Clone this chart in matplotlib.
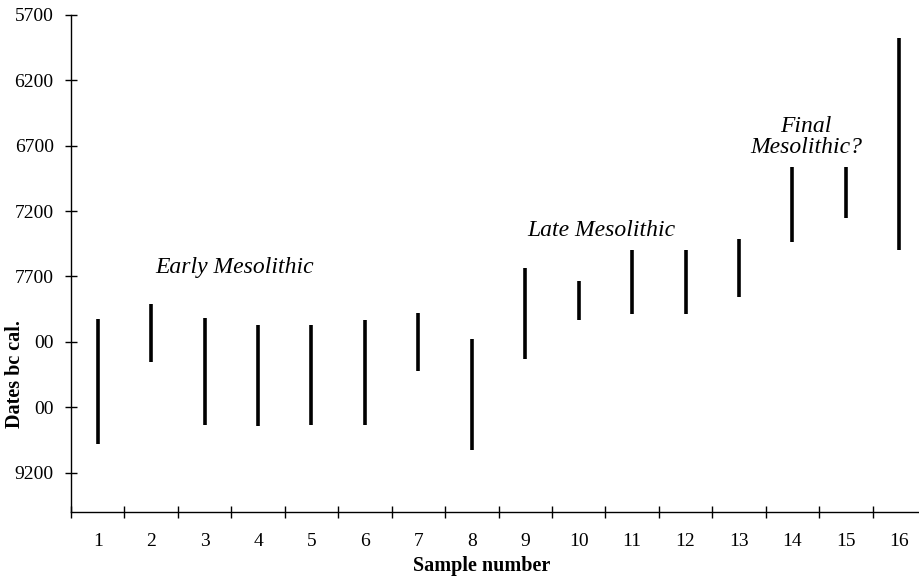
import matplotlib
matplotlib.use("Agg")
import matplotlib.pyplot as plt

samples = list(range(1, 17))
date_young = [8025, 7913, 8020, 8071, 8071, 8031, 7980, 8181,
              7638, 7737, 7498, 7498, 7412, 6861, 6861, 5880]
date_old = [8983, 8354, 8838, 8846, 8838, 8838, 8420, 9029,
            8331, 8033, 7987, 7987, 7855, 7439, 7256, 7498]
ytick_values = [5700, 6200, 6700, 7200, 7700, 8200, 8700, 9200]
ytick_labels = ["5700", "6200", "6700", "7200", "7700", "00", "00", "9200"]

W, H = 920, 577
fig = plt.figure(figsize=(W / 100, H / 100), dpi=100)
serif = ["Liberation Serif", "DejaVu Serif"]

x0, x1 = 71, 926
y_top, y_bot = 14.7, 512
ax = fig.add_axes([x0 / W, (H - y_bot) / H, (x1 - x0) / W, (y_bot - y_top) / H])

ax.vlines(samples, date_young, date_old, colors="black", linewidth=2.6)

ax.set_xlim(0.5, 16.5)
ax.set_ylim(9500, 5700)

for s in ["top", "right"]:
    ax.spines[s].set_visible(False)
for s in ["left", "bottom"]:
    ax.spines[s].set_linewidth(1.0)
    ax.spines[s].set_color("black")

ax.set_yticks(ytick_values)
ax.set_yticklabels(ytick_labels, fontfamily=serif, fontsize=14)
ax.set_xticks([i + 0.5 for i in range(0, 17)])
ax.set_xticklabels([])
ax.set_xticks(samples, minor=True)
ax.set_xticklabels([str(s) for s in samples], minor=True, fontfamily=serif, fontsize=14)
ax.tick_params(axis="x", which="major", direction="inout", length=9, width=1.0)
ax.tick_params(axis="x", which="minor", length=0, pad=15)
ax.tick_params(axis="y", direction="inout", length=9, width=1.0, pad=8)

fig.text(482 / W, 1 - 566 / H, "Sample number", ha="center", va="center",
         fontfamily=serif, fontweight="bold", fontsize=14.5)
fig.text(15 / W, 1 - 374 / H, "Dates bc cal.", ha="center", va="center",
         rotation=90, fontfamily=serif, fontweight="bold", fontsize=14.5)

fig.text(155 / W, 1 - 267 / H, "Early Mesolithic", ha="left", va="center",
         fontfamily=serif, style="italic", fontsize=17)
fig.text(527 / W, 1 - 231 / H, "Late Mesolithic", ha="left", va="center",
         fontfamily=serif, style="italic", fontsize=17)
fig.text(806 / W, 1 - 137 / H, "Final\nMesolithic?", ha="center", va="center",
         fontfamily=serif, style="italic", fontsize=17, linespacing=1.0)

fig.savefig("out.png", dpi=100)
